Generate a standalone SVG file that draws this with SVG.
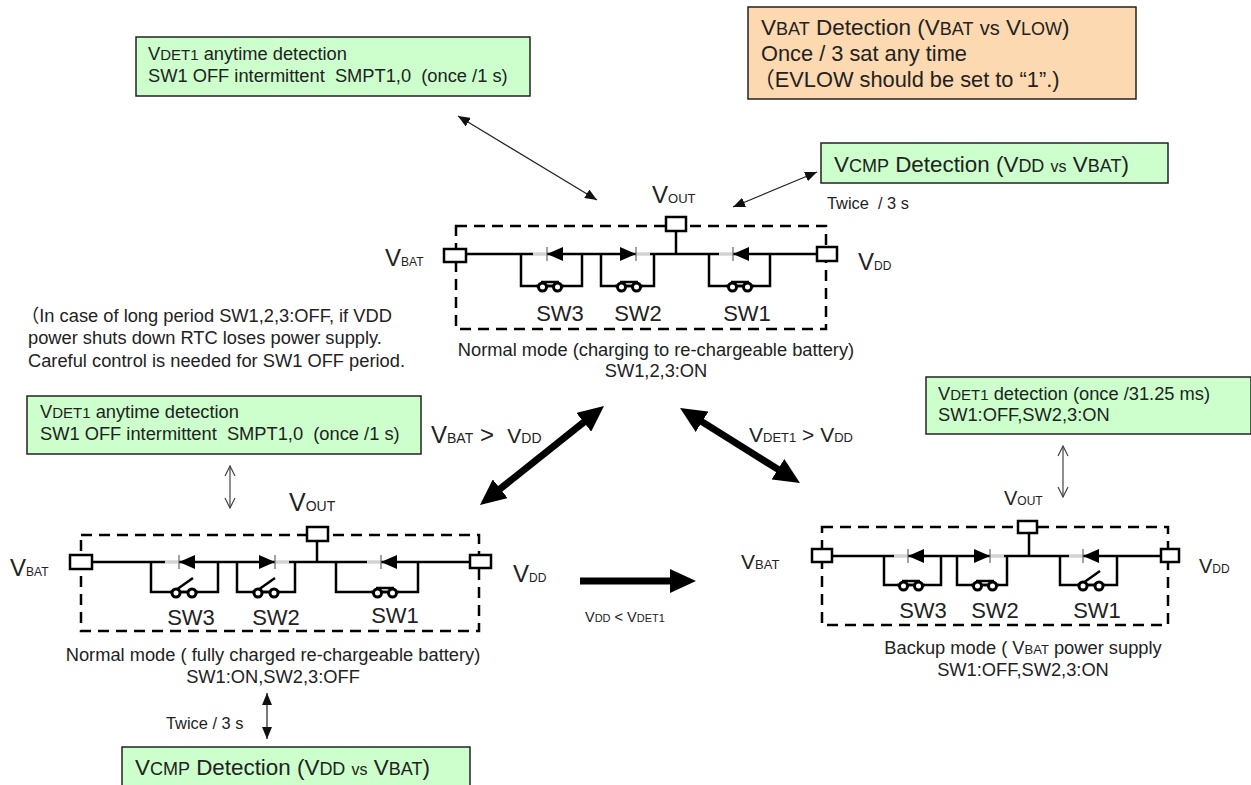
<svg xmlns="http://www.w3.org/2000/svg" width="1251" height="785" viewBox="0 0 1251 785">
<style>
text{font-family:"Liberation Sans",Arial,"Noto Sans CJK JP",sans-serif;fill:#222;white-space:pre}
.m{text-anchor:middle}
.s15{font-size:18.3px}.s14{font-size:16.4px}.s19{font-size:22.5px}.s21{font-size:22.4px}
.sw{font-size:22px;text-anchor:middle}
.v{font-size:24px}
.g{fill:#ccffcc;stroke:#222;stroke-width:1.5}
.o{fill:#fcd9b0;stroke:#222;stroke-width:1.5}
.dash{fill:none;stroke:#000;stroke-width:2.5;stroke-dasharray:11 7}
.wire{fill:none;stroke:#000;stroke-width:2.5}
.pin{fill:#fff;stroke:#000;stroke-width:2.5}
.thin{fill:none;stroke:#222;stroke-width:1.2;marker-start:url(#hs);marker-end:url(#hs)}
.open{fill:none;stroke:#444;stroke-width:1.2;marker-start:url(#ho);marker-end:url(#ho)}
.thick{fill:none;stroke:#000;stroke-width:7;marker-end:url(#ht)}
.thick2{marker-start:url(#ht)}
</style>
<defs>
<marker id="hs" viewBox="0 0 12 10" refX="12" refY="5" markerWidth="12" markerHeight="10" markerUnits="userSpaceOnUse" orient="auto-start-reverse"><path d="M0 0L12 5L0 10Z" fill="#111"/></marker>
<marker id="ho" viewBox="0 0 12 12" refX="11" refY="6" markerWidth="12" markerHeight="12" markerUnits="userSpaceOnUse" orient="auto-start-reverse"><path d="M1 1L11 6L1 11" fill="none" stroke="#444" stroke-width="1.2"/></marker>
<marker id="ht" viewBox="0 0 26 24" refX="6" refY="12" markerWidth="26" markerHeight="24" markerUnits="userSpaceOnUse" orient="auto-start-reverse"><path d="M0 0L26 12L0 24Z" fill="#000"/></marker>
<g id="dl"><path d="M-14 0H0" stroke="#fff" stroke-width="3"/><path d="M-14 0H0" stroke="#bbb" stroke-width="1.3"/><path d="M0 0L16 -7V7Z" fill="#000"/><path d="M0 -7V7" stroke="#666" stroke-width="1.2"/></g>
<g id="dr"><path d="M0 0H14" stroke="#fff" stroke-width="3"/><path d="M0 0H14" stroke="#bbb" stroke-width="1.3"/><path d="M0 0L-16 -7V7Z" fill="#000"/><path d="M0 -7V7" stroke="#666" stroke-width="1.2"/></g>
<g id="sc"><path d="M-14 0H14" stroke="#000" stroke-width="2.5"/><path d="M-9 -4H9" stroke="#000" stroke-width="2.5"/><circle cx="-7.5" cy="1" r="4" fill="#fff" stroke="#000" stroke-width="3"/><circle cx="7.5" cy="1" r="4" fill="#fff" stroke="#000" stroke-width="3"/></g>
<g id="so"><path d="M-14 0H14" stroke="#000" stroke-width="2.5"/><path d="M-8 -2L9 -14" stroke="#000" stroke-width="2.5"/><circle cx="-8" cy="1" r="4" fill="#fff" stroke="#000" stroke-width="3"/><circle cx="8" cy="1" r="4" fill="#fff" stroke="#000" stroke-width="3"/></g>
</defs>

<g id="connectors">
<path class="thin" d="M458 116L597 200"/>
<path class="thin" d="M733 207L817 172"/>
<path class="open" d="M230 466V508"/>
<path class="open" d="M1063 446V497"/>
<path class="thin" d="M267 693V739"/>
<path class="thick thick2" d="M588.4 418.5L495.6 492.5"/>
<path class="thick thick2" d="M697 418.6L783 472.4"/>
<path class="thick" d="M580 581H676"/>
</g>

<g id="box-vdet1-top"><rect class="g" x="136" y="37" width="394" height="59"/>
<text x="148" y="60" class="s15">V<tspan font-size="15">DET1</tspan> anytime detection</text>
<text x="148" y="82" class="s15">SW1 OFF intermittent  SMPT1,0  (once /1 s)</text></g>

<g id="box-vbat"><rect class="o" x="748" y="7" width="388" height="92"/>
<text x="761" y="35" class="s19">V<tspan font-size="18">BAT</tspan> Detection (V<tspan font-size="18">BAT</tspan> <tspan font-size="20">vs</tspan> V<tspan font-size="18">LOW</tspan>)</text>
<text x="761" y="61" font-size="21.8">Once / 3 sat any time</text>
<text x="753" y="87" font-size="21.8">（EVLOW should be set to “1”.)</text></g>

<g id="box-vcmp-top"><rect class="g" x="821" y="143" width="347" height="40"/>
<text x="834" y="172" class="s21">V<tspan font-size="18">CMP</tspan> Detection (V<tspan font-size="18">DD</tspan> <tspan font-size="16">vs</tspan> V<tspan font-size="18">BAT</tspan>)</text></g>
<text id="twice-top" x="827" y="209" class="s14">Twice  / 3 s</text>

<g id="circuit-charging">
<rect class="dash" x="456" y="226" width="370" height="103"/>
<path class="wire" d="M466 254H817M676 231V254M521 254V286H582V254M601 254V286H654V254M709 254V286H770V254"/>
<rect class="pin" x="444" y="249" width="22" height="13"/>
<rect class="pin" x="817" y="247" width="20" height="14"/>
<rect class="pin" x="666" y="217" width="20" height="14"/>
<use href="#dl" x="547" y="254"/><use href="#dr" x="636" y="254"/><use href="#dl" x="733" y="254"/>
<use href="#sc" x="550" y="286"/><use href="#sc" x="629" y="286"/><use href="#sc" x="740" y="286"/>
<text class="sw" x="560" y="321">SW3</text><text class="sw" x="638" y="321">SW2</text><text class="sw" x="747" y="321">SW1</text>
<text x="652" y="203" class="v">V<tspan font-size="13">OUT</tspan></text>
<text x="385" y="266" class="v">V<tspan font-size="12">BAT</tspan></text>
<text x="858" y="270" class="v">V<tspan font-size="12">DD</tspan></text>
<text class="m s15" x="656" y="356">Normal mode (charging to re-chargeable battery)</text>
<text class="m s15" x="656" y="377">SW1,2,3:ON</text>
</g>

<g id="note"><text x="21" y="322" class="s15">（In case of long period SW1,2,3:OFF, if VDD</text>
<text x="28" y="344" class="s15">power shuts down RTC loses power supply.</text>
<text x="28" y="367" class="s15">Careful control is needed for SW1 OFF period.</text></g>

<g id="box-vdet1-left"><rect class="g" x="27" y="396" width="394" height="58"/>
<text x="40" y="418" class="s15">V<tspan font-size="15">DET1</tspan> anytime detection</text>
<text x="40" y="440" class="s15">SW1 OFF intermittent  SMPT1,0  (once /1 s)</text></g>

<g id="box-vdet1-right"><rect class="g" x="926" y="377" width="325" height="57"/>
<text x="938" y="400" class="s15">V<tspan font-size="15">DET1</tspan> detection (once /31.25 ms)</text>
<text x="938" y="421" class="s15">SW1:OFF,SW2,3:ON</text></g>

<text id="cond-vbat" x="431" y="443" class="v">V<tspan font-size="14">BAT</tspan> &gt;  <tspan font-size="21">V</tspan><tspan font-size="14">DD</tspan></text>
<text id="cond-vdet" x="749" y="442" font-size="21">V<tspan font-size="13">DET1</tspan> &gt; V<tspan font-size="13">DD</tspan></text>
<text id="cond-vdd" x="585" y="622" font-size="14.5">V<tspan font-size="11">DD</tspan> &lt; V<tspan font-size="11">DET1</tspan></text>

<g id="circuit-full">
<rect class="dash" x="81" y="535" width="398" height="96"/>
<path class="wire" d="M92 562H470M317 541V562M151 562V592H218V562M237 562V592H295V562M336 562V592H418V562"/>
<rect class="pin" x="70" y="555" width="22" height="14"/>
<rect class="pin" x="470" y="555" width="21" height="13"/>
<rect class="pin" x="307" y="527" width="21" height="14"/>
<use href="#dl" x="179" y="562"/><use href="#dr" x="275" y="562"/><use href="#dl" x="381" y="562"/>
<use href="#so" x="184" y="592"/><use href="#so" x="266" y="592"/><use href="#sc" x="385" y="592"/>
<text class="sw" x="191" y="625">SW3</text><text class="sw" x="276" y="625">SW2</text><text class="sw" x="395" y="623">SW1</text>
<text x="289" y="511" font-size="25">V<tspan font-size="14">OUT</tspan></text>
<text x="10" y="576" class="v">V<tspan font-size="12">BAT</tspan></text>
<text x="513" y="582" class="v">V<tspan font-size="12">DD</tspan></text>
<text class="m s15" x="273" y="661">Normal mode ( fully charged re-chargeable battery)</text>
<text class="m s15" x="273" y="683">SW1:ON,SW2,3:OFF</text>
</g>
<text id="twice-bottom" x="166" y="729" class="s14">Twice / 3 s</text>

<g id="box-vcmp-bottom"><rect class="g" x="122" y="747" width="348" height="42"/>
<text x="135" y="775" class="s21">V<tspan font-size="18">CMP</tspan> Detection (V<tspan font-size="18">DD</tspan> <tspan font-size="16">vs</tspan> V<tspan font-size="18">BAT</tspan>)</text></g>

<g id="circuit-backup">
<rect class="dash" x="822" y="527" width="346" height="98"/>
<path class="wire" d="M832 556H1161M1029 533V556M884 556V585H941V556M957 556V585H1007V556M1060 556V585H1117V556"/>
<rect class="pin" x="812" y="549" width="20" height="13"/>
<rect class="pin" x="1161" y="549" width="18" height="13"/>
<rect class="pin" x="1018" y="521" width="19" height="12"/>
<use href="#dl" x="908" y="556"/><use href="#dr" x="990" y="556"/><use href="#dl" x="1083" y="556"/>
<use href="#sc" x="911" y="585"/><use href="#sc" x="985" y="585"/><use href="#so" x="1091" y="585"/>
<text class="sw" x="923" y="618">SW3</text><text class="sw" x="995" y="618">SW2</text><text class="sw" x="1097" y="618">SW1</text>
<text x="1004" y="505" font-size="20">V<tspan font-size="12">OUT</tspan></text>
<text x="741" y="569" font-size="21">V<tspan font-size="13">BAT</tspan></text>
<text x="1199" y="573" font-size="20">V<tspan font-size="12">DD</tspan></text>
<text class="m s15" x="1023" y="654">Backup mode ( V<tspan font-size="13">BAT</tspan> power supply</text>
<text class="m s15" x="1023" y="676">SW1:OFF,SW2,3:ON</text>
</g>
</svg>
